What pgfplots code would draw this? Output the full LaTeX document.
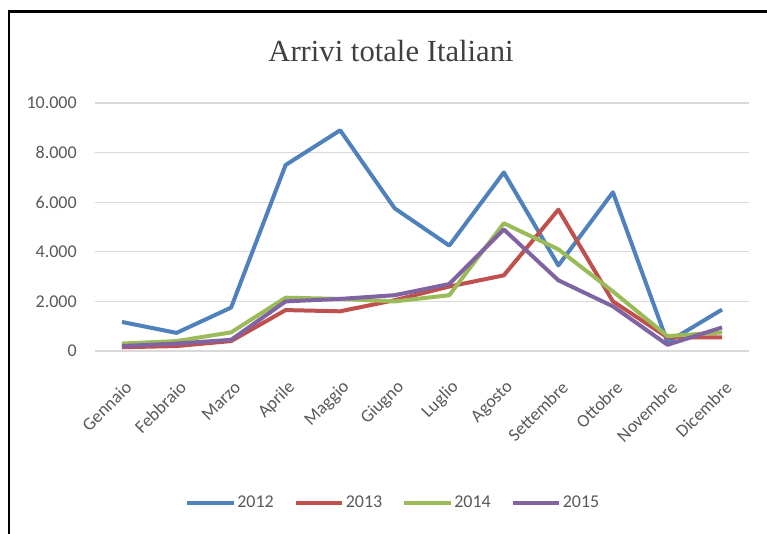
\documentclass[border=0pt]{standalone}
\usepackage{fontspec}
\setmainfont{Carlito}
\newfontfamily\titlefont{Liberation Serif}
\usepackage{pgfplots}
\pgfplotsset{compat=1.18}

\definecolor{s2012}{HTML}{4F81BD}
\definecolor{s2013}{HTML}{C0504D}
\definecolor{s2014}{HTML}{9BBB59}
\definecolor{s2015}{HTML}{8064A2}
\definecolor{gridc}{HTML}{D9D9D9}
\definecolor{labc}{HTML}{595959}

\begin{document}
\begin{tikzpicture}[x=0.75pt,y=0.75pt]
\useasboundingbox (0,0) rectangle (767,534);
% frame
\draw[line width=1.6pt] (9,0) -- (9,522.5) -- (767,522.5);
% title
\node[font=\titlefont\fontsize{23}{23}\selectfont, anchor=base, text={rgb,255:red,64;green,64;blue,64}]
  at (391,472) {Arrivi totale Italiani};

\begin{axis}[
  at={(71.025pt,137.25pt)}, anchor=south west,
  scale only axis, width=490.95pt, height=186pt,
  xmin=-0.5, xmax=11.5, ymin=0, ymax=10000,
  axis line style={draw=none},
  major tick length=0pt,
  scaled y ticks=false,
  xtick={0,...,11},
  xticklabels={Gennaio,Febbraio,Marzo,Aprile,Maggio,Giugno,Luglio,Agosto,Settembre,Ottobre,Novembre,Dicembre},
  ytick={0,2000,4000,6000,8000,10000},
  yticklabels={0,2.000,4.000,6.000,8.000,10.000},
  ymajorgrids,
  grid style={gridc, line width=1pt},
  ticklabel style={font=\fontsize{13.5}{13.5}\selectfont, text=labc},
  yticklabel style={anchor=east, inner sep=0pt, xshift=-13.3pt},
  xticklabel style={xshift=5pt, yshift=-25pt, rotate=45, anchor=east, inner sep=0pt},
  every axis plot/.append style={line width=3pt, line join=round},
  legend columns=4,
  legend style={draw=none, fill=none, inner sep=0pt,
    at={(0.138,-0.612)}, anchor=west,
    font=\fontsize{13.5}{13.5}\selectfont, text=labc,
    nodes={inner sep=1pt},
    /tikz/every even column/.append style={column sep=14pt}},
  legend image code/.code={\draw[#1] (0pt,0pt) -- (35pt,0pt);},
]
\addplot[s2012] coordinates {(0,1170) (1,730) (2,1750) (3,7500) (4,8900) (5,5750) (6,4250) (7,7200) (8,3450) (9,6400) (10,350) (11,1670)};
\addlegendentry{2012}
\addplot[s2013] coordinates {(0,150) (1,200) (2,400) (3,1650) (4,1600) (5,2050) (6,2600) (7,3050) (8,5700) (9,2000) (10,550) (11,550)};
\addlegendentry{2013}
\addplot[s2014] coordinates {(0,300) (1,400) (2,750) (3,2150) (4,2100) (5,2000) (6,2250) (7,5150) (8,4100) (9,2400) (10,600) (11,750)};
\addlegendentry{2014}
\addplot[s2015] coordinates {(0,200) (1,300) (2,450) (3,2000) (4,2100) (5,2250) (6,2700) (7,4900) (8,2850) (9,1800) (10,250) (11,950)};
\addlegendentry{2015}
\end{axis}
\end{tikzpicture}
\end{document}
